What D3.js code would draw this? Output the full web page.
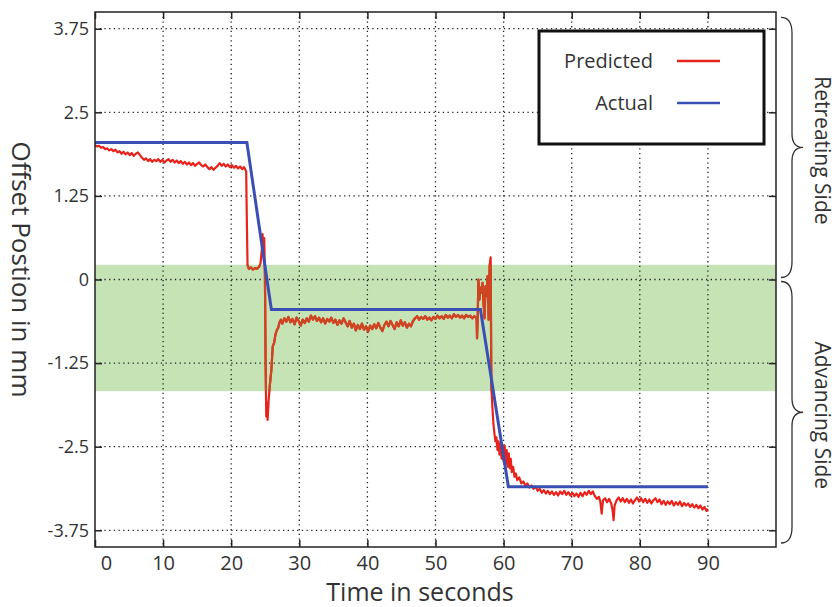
<!DOCTYPE html>
<html>
<head>
<meta charset="utf-8">
<script src="https://cdn.jsdelivr.net/npm/d3@7"></script>
<style>
  body { margin: 0; background: #fff; }
  text { font-family: "Open Sans", sans-serif; fill: #333; }
</style>
</head>
<body>
<svg id="chart" width="838" height="607"></svg>
<script>
// ---- data ----
const xTickValues = [0, 10, 20, 30, 40, 50, 60, 70, 80, 90]
const yTickValues = [3.75, 2.5, 1.25, 0, -1.25, -2.5, -3.75]
const yTickLabels = ['3.75', '2.5', '1.25', '0', '-1.25', '-2.5', '-3.75']
const bandRange = [-1.67, 0.22]
const seriesNames = ['Predicted', 'Actual']
const sideLabels = ['Retreating Side', 'Advancing Side']

const actual = [[0, 2.05], [22.3, 2.05], [25.9, -0.45], [56.6, -0.45], [60.7, -3.1], [90, -3.1]]

const predicted = [
  [0,2.01],[0.3,1.99],[0.6,2.00],[0.9,1.97],[1.2,1.98],[1.5,1.95],[1.8,1.96],[2.1,1.93],[2.4,1.95],[2.7,1.92],
  [3.0,1.94],[3.3,1.90],[3.6,1.92],[3.9,1.88],[4.2,1.91],[4.5,1.87],[4.8,1.90],[5.1,1.86],[5.4,1.89],[5.7,1.85],
  [6.0,1.88],[6.3,1.90],[6.6,1.86],[6.9,1.82],[7.2,1.79],[7.5,1.81],[7.8,1.77],[8.1,1.80],[8.4,1.76],[8.7,1.79],
  [9.0,1.77],[9.3,1.80],[9.6,1.76],[9.9,1.79],[10.2,1.75],[10.5,1.78],[10.8,1.80],[11.1,1.76],[11.4,1.79],[11.7,1.75],
  [12.0,1.78],[12.3,1.74],[12.6,1.77],[12.9,1.73],[13.2,1.76],[13.5,1.72],[13.8,1.75],[14.1,1.71],[14.4,1.74],[14.7,1.70],
  [15.0,1.73],[15.3,1.75],[15.6,1.71],[15.9,1.69],[16.2,1.72],[16.5,1.68],[16.8,1.65],[17.1,1.68],[17.4,1.64],[17.7,1.67],
  [18.0,1.70],[18.3,1.74],[18.6,1.70],[18.9,1.73],[19.2,1.69],[19.5,1.72],[19.8,1.68],[20.1,1.71],[20.4,1.67],[20.7,1.70],
  [21.0,1.66],[21.3,1.69],[21.6,1.65],[21.9,1.68],[22.2,1.62],
  [22.3,0.85],[22.4,0.22],[22.6,0.16],[22.9,0.18],[23.2,0.15],[23.5,0.17],[23.8,0.16],[24.1,0.19],[24.3,0.24],
  [24.5,0.45],[24.6,0.68],[24.75,0.40],[24.85,0.62],[24.95,0.10],[25.05,-1.2],[25.15,-2.05],[25.25,-1.85],[25.35,-2.1],
  [25.5,-1.8],[25.7,-1.55],[25.9,-1.35],[26.1,-1.0],[26.3,-0.95],[26.5,-0.82],[26.7,-0.76],[26.9,-0.72],[27.1,-0.64],[27.3,-0.60],
  [27.5,-0.66],[27.8,-0.58],[28.1,-0.63],[28.4,-0.56],[28.7,-0.64],[29.0,-0.59],[29.3,-0.67],[29.6,-0.57],[29.9,-0.62],[30.2,-0.69],
  [30.5,-0.60],[30.8,-0.65],[31.1,-0.58],[31.4,-0.63],[31.7,-0.54],[32.0,-0.60],[32.3,-0.55],[32.6,-0.62],[32.9,-0.57],[33.2,-0.64],
  [33.5,-0.58],[33.8,-0.66],[34.1,-0.59],[34.4,-0.63],[34.7,-0.57],[35.0,-0.65],[35.3,-0.60],[35.6,-0.68],[35.9,-0.61],[36.2,-0.66],
  [36.5,-0.58],[36.8,-0.64],[37.1,-0.70],[37.4,-0.62],[37.7,-0.72],[38.0,-0.66],[38.3,-0.76],[38.6,-0.68],[38.9,-0.74],[39.2,-0.66],
  [39.5,-0.75],[39.8,-0.70],[40.1,-0.78],[40.4,-0.69],[40.7,-0.74],[41.0,-0.67],[41.3,-0.73],[41.6,-0.65],[41.9,-0.72],[42.2,-0.77],
  [42.5,-0.68],[42.8,-0.63],[43.1,-0.70],[43.4,-0.62],[43.7,-0.68],[44.0,-0.74],[44.3,-0.64],[44.6,-0.70],[44.9,-0.61],[45.2,-0.69],
  [45.5,-0.64],[45.8,-0.72],[46.1,-0.66],[46.4,-0.70],[46.7,-0.62],[47.0,-0.58],[47.3,-0.55],[47.6,-0.60],[47.9,-0.56],[48.2,-0.59],
  [48.5,-0.55],[48.8,-0.60],[49.1,-0.57],[49.4,-0.61],[49.7,-0.56],[50.0,-0.59],[50.3,-0.54],[50.6,-0.58],[50.9,-0.55],[51.2,-0.59],
  [51.5,-0.53],[51.8,-0.57],[52.1,-0.54],[52.4,-0.58],[52.7,-0.52],[53.0,-0.56],[53.3,-0.53],[53.6,-0.57],[53.9,-0.54],[54.2,-0.58],
  [54.5,-0.53],[54.8,-0.56],[55.1,-0.54],[55.4,-0.58],[55.7,-0.55],[56.0,-0.57],
  [56.05,-0.62],[56.1,-0.88],[56.2,-0.55],[56.3,0.0],[56.45,-0.3],[56.6,-0.12],[56.75,-0.2],[56.9,-0.05],[57.05,-0.35],[57.2,-0.58],
  [57.35,-0.1],[57.5,-0.25],[57.65,0.05],[57.8,-0.6],[57.95,0.22],[58.1,0.33],[58.2,-1.6],[58.35,-1.9],[58.5,-2.15],[58.65,-2.3],
  [58.8,-2.42],[58.95,-2.36],[59.1,-2.55],[59.25,-2.42],[59.4,-2.62],[59.55,-2.45],[59.7,-2.68],[59.85,-2.5],[60.0,-2.72],[60.15,-2.48],
  [60.3,-2.75],[60.45,-2.55],[60.6,-2.8],[60.75,-2.6],[60.9,-2.82],[61.05,-2.68],[61.2,-2.88],[61.4,-2.8],[61.6,-2.95],[61.8,-2.9],
  [62.0,-3.0],[62.3,-2.96],[62.6,-3.05],[62.9,-3.02],[63.2,-3.08],[63.5,-3.05],[63.8,-3.11],[64.1,-3.08],[64.4,-3.13],[64.7,-3.1],[65.0,-3.16],
  [65.3,-3.13],[65.6,-3.19],[65.9,-3.15],[66.2,-3.2],[66.5,-3.16],[66.8,-3.21],[67.1,-3.17],[67.4,-3.22],[67.7,-3.18],[68.0,-3.23],
  [68.3,-3.17],[68.6,-3.21],[68.9,-3.16],[69.2,-3.22],[69.5,-3.18],[69.8,-3.23],[70.1,-3.19],[70.4,-3.24],[70.7,-3.2],[71.0,-3.25],
  [71.3,-3.19],[71.6,-3.24],[71.9,-3.18],[72.2,-3.22],[72.5,-3.16],[72.8,-3.21],[73.1,-3.17],[73.4,-3.24],[73.7,-3.28],[74.0,-3.25],
  [74.2,-3.32],[74.4,-3.5],[74.6,-3.3],[74.9,-3.27],[75.2,-3.33],[75.5,-3.28],[75.8,-3.35],[76.0,-3.45],[76.15,-3.6],[76.3,-3.38],
  [76.6,-3.3],[76.9,-3.26],[77.2,-3.32],[77.5,-3.27],[77.8,-3.33],[78.1,-3.28],[78.4,-3.34],[78.7,-3.29],[79.0,-3.35],[79.3,-3.3],
  [79.6,-3.26],[79.9,-3.32],[80.2,-3.27],[80.5,-3.33],[80.8,-3.28],[81.1,-3.34],[81.4,-3.29],[81.7,-3.35],[82.0,-3.3],[82.3,-3.27],
  [82.6,-3.33],[82.9,-3.29],[83.2,-3.36],[83.5,-3.31],[83.8,-3.37],[84.1,-3.32],[84.4,-3.36],[84.7,-3.31],[85.0,-3.38],[85.3,-3.33],
  [85.6,-3.37],[85.9,-3.32],[86.2,-3.39],[86.5,-3.34],[86.8,-3.38],[87.1,-3.35],[87.4,-3.4],[87.7,-3.36],[88.0,-3.41],[88.3,-3.37],
  [88.6,-3.42],[88.9,-3.38],[89.2,-3.44],[89.5,-3.4],[89.8,-3.46],[90.0,-3.43]
]

// ---- layout ----
const margin = {left: 95, top: 12, right: 62, bottom: 60}
const W = 838, H = 607
const w = W - margin.left - margin.right
const h = H - margin.top - margin.bottom
const red = '#e8231c', blue = '#3a4fb3', redOnGreen = '#cc4622'

const svg = d3.select('#chart')
const g = svg.append('g').attr('transform', `translate(${margin.left},${margin.top})`)

const x = d3.scaleLinear().domain([0, 100]).range([0, w])
const y = d3.scaleLinear().domain([-4, 4]).range([h, 0])

// green band
g.append('rect')
  .attr('x', 0).attr('width', w)
  .attr('y', y(bandRange[1])).attr('height', y(bandRange[0]) - y(bandRange[1]))
  .attr('fill', '#c6e3b6')
svg.append('clipPath').attr('id', 'bandClip').append('rect')
  .attr('x', 0).attr('width', w)
  .attr('y', y(bandRange[1])).attr('height', y(bandRange[0]) - y(bandRange[1]))

// dotted grid
const grid = g.append('g').attr('stroke', '#222').attr('stroke-width', 1.3).attr('stroke-dasharray', '1.3,3.4')
grid.selectAll('.gx').data(xTickValues.filter(d => d > 0)).enter().append('line')
  .attr('x1', d => x(d)).attr('x2', d => x(d)).attr('y1', 0).attr('y2', h)
grid.selectAll('.gy').data(yTickValues).enter().append('line')
  .attr('y1', d => y(d)).attr('y2', d => y(d)).attr('x1', 0).attr('x2', w)

// axes (ticks inward)
const fmtY = d => yTickLabels[yTickValues.indexOf(d)]
const axLeft = g.append('g').call(d3.axisLeft(y).tickValues(yTickValues).tickSize(-7).tickPadding(6).tickFormat(fmtY))
const axRight = g.append('g').attr('transform', `translate(${w},0)`)
  .call(d3.axisRight(y).tickValues(yTickValues).tickSize(-7).tickFormat(''))
const axBottom = g.append('g').attr('transform', `translate(0,${h})`)
  .call(d3.axisBottom(x).tickValues(xTickValues).tickSize(-7).tickPadding(9))
const axTop = g.append('g').call(d3.axisTop(x).tickValues(xTickValues).tickSize(-7).tickFormat(''))
;[axLeft, axRight, axBottom, axTop].forEach(a => {
  a.select('.domain').remove()
  a.selectAll('.tick line').attr('stroke', '#222').attr('stroke-width', 1.5)
})
axLeft.selectAll('text').style('font-size', '18px').attr('fill', '#333')
axBottom.selectAll('text').style('font-size', '20px').attr('fill', '#333')
  .attr('dx', d => d === 0 ? 11 : 0)

// lines
const line = d3.line().x(d => x(d[0])).y(d => y(d[1]))
g.append('path').datum(predicted)
  .attr('fill', 'none').attr('stroke', red).attr('stroke-width', 2.2)
  .attr('stroke-linejoin', 'round').attr('d', line)
g.append('path').datum(predicted)
  .attr('clip-path', 'url(#bandClip)')
  .attr('fill', 'none').attr('stroke', redOnGreen).attr('stroke-width', 2.2)
  .attr('stroke-linejoin', 'round').attr('d', line)
g.append('path').datum(actual)
  .attr('fill', 'none').attr('stroke', blue).attr('stroke-width', 3)
  .attr('d', line)

// frame
g.append('rect').attr('width', w).attr('height', h)
  .attr('fill', 'none').attr('stroke', '#222').attr('stroke-width', 1.5)

// legend
const lg = g.append('g').attr('transform', `translate(${w - 237},19)`)
lg.append('rect').attr('width', 225).attr('height', 113)
  .attr('fill', '#fff').attr('stroke', '#111').attr('stroke-width', 3)
const legendColors = [red, blue]
seriesNames.forEach((name, i) => {
  const yy = 29 + i * 42
  lg.append('text').attr('x', 114).attr('y', yy).attr('text-anchor', 'end')
    .attr('dominant-baseline', 'central').style('font-size', '20px').text(name)
  lg.append('line').attr('x1', 138).attr('x2', 181).attr('y1', yy + 1).attr('y2', yy + 1)
    .attr('stroke', legendColors[i]).attr('stroke-width', 2.5)
})

// axis titles
svg.append('text')
  .attr('transform', `translate(22,${margin.top + y(0.15)}) rotate(90)`)
  .attr('text-anchor', 'middle').attr('dominant-baseline', 'central')
  .style('font-size', '26px').text('Offset Postion in mm')
svg.append('text')
  .attr('x', 420).attr('y', 601).attr('text-anchor', 'middle')
  .style('font-size', '25px').text('Time in seconds')

// side braces
function brace(x0, ya, yb) {
  const xb = x0 + 11, xt = x0 + 22, m = (ya + yb) / 2
  return `M${x0},${ya} Q${xb},${ya} ${xb},${ya + 16} L${xb},${m - 14} Q${xb},${m} ${xt},${m}` +
    ` Q${xb},${m} ${xb},${m + 14} L${xb},${yb - 16} Q${xb},${yb} ${x0},${yb}`
}
const sideRanges = [[3.92, 0.03], [-0.03, -3.94]]
sideRanges.forEach((r, i) => {
  const ya = margin.top + y(r[0]), yb = margin.top + y(r[1])
  svg.append('path').attr('d', brace(margin.left + w + 5, ya, yb))
    .attr('fill', 'none').attr('stroke', '#333').attr('stroke-width', 1.3)
  svg.append('text')
    .attr('transform', `translate(823,${(ya + yb) / 2 + 3}) rotate(90)`)
    .attr('text-anchor', 'middle').attr('dominant-baseline', 'central')
    .style('font-size', '21px').attr('fill', '#444').text(sideLabels[i])
})
</script>
</body>
</html>
